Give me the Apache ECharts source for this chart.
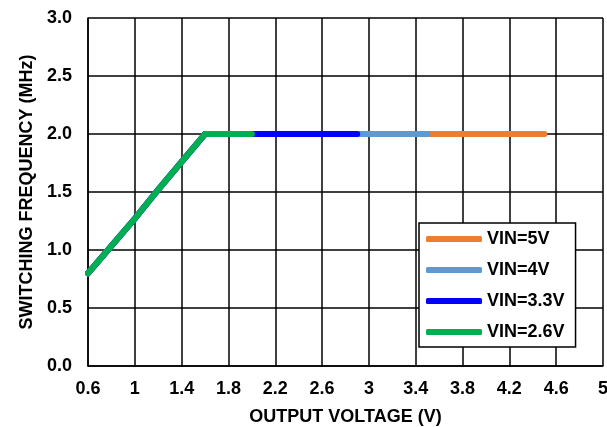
<!DOCTYPE html>
<html>
<head>
<meta charset="utf-8">
<title>Switching Frequency vs Output Voltage</title>
<script src="https://cdn.jsdelivr.net/npm/echarts@6/dist/echarts.min.js"></script>
<style>
  html, body { margin: 0; padding: 0; background: #fff; }
  #chart { width: 607px; height: 427px; }
</style>
</head>
<body>
<div id="chart"></div>
<script>
// Switching frequency (MHz) versus output voltage (V) for each input voltage.
const seriesNames = ['VIN=5V', 'VIN=4V', 'VIN=3.3V', 'VIN=2.6V'];
const seriesColors = ['#ED7D31', '#5B9BD5', '#0000FF', '#00B050'];

// [VOUT, fSW] pairs
const vin5 = [[0.6, 0.8], [1.0, 1.27], [1.2, 1.52], [1.6, 2.0], [4.5, 2.0]];
const vin4 = [[0.6, 0.8], [1.0, 1.27], [1.2, 1.52], [1.6, 2.0], [3.5, 2.0]];
const vin33 = [[0.6, 0.8], [1.0, 1.27], [1.2, 1.52], [1.6, 2.0], [2.9, 2.0]];
const vin26 = [[0.6, 0.8], [1.0, 1.27], [1.2, 1.52], [1.6, 2.0], [2.0, 2.0]];
const seriesData = [vin5, vin4, vin33, vin26];

const xMin = 0.6, xMax = 5, xStep = 0.4;
const yMin = 0, yMax = 3, yStep = 0.5;

const FONT = '"Liberation Sans", Arial, sans-serif';
const chart = echarts.init(document.getElementById('chart'), null, { renderer: 'canvas' });

chart.setOption({
  animation: false,
  backgroundColor: '#fff',
  grid: { left: 88, top: 18, right: 4, bottom: 61, containLabel: false, outerBoundsMode: 'none' },
  legend: {
    orient: 'vertical',
    left: 419,
    top: 223,
    data: seriesNames,
    icon: 'roundRect',
    itemWidth: 56,
    itemHeight: 6,
    itemGap: 13,
    itemTextGap: 4,
    padding: [7, 11, 6, 7],
    backgroundColor: '#fff',
    borderColor: '#000',
    borderWidth: 1.5,
    borderRadius: 0,
    textStyle: { fontFamily: FONT, fontWeight: 'bold', fontSize: 18, color: '#000' }
  },
  xAxis: {
    type: 'value',
    min: xMin,
    max: xMax,
    interval: xStep,
    name: 'OUTPUT VOLTAGE (V)',
    nameLocation: 'middle',
    nameGap: 42,
    nameTextStyle: { fontFamily: FONT, fontWeight: 'bold', fontSize: 18, color: '#000' },
    axisLine: { show: true, lineStyle: { color: '#000', width: 1.5 } },
    axisTick: { show: false },
    axisLabel: {
      margin: 14,
      fontFamily: FONT, fontWeight: 'bold', fontSize: 18, color: '#000',
      formatter: v => String(Math.round(v * 10) / 10)
    },
    splitLine: { show: true, lineStyle: { color: '#000', width: 1.5 } }
  },
  yAxis: {
    type: 'value',
    min: yMin,
    max: yMax,
    interval: yStep,
    name: 'SWITCHING FREQUENCY (MHz)',
    nameLocation: 'middle',
    nameGap: 51,
    nameTextStyle: { fontFamily: FONT, fontWeight: 'bold', fontSize: 18, color: '#000' },
    axisLine: { show: true, lineStyle: { color: '#000', width: 1.5 } },
    axisTick: { show: false },
    axisLabel: {
      margin: 16,
      fontFamily: FONT, fontWeight: 'bold', fontSize: 18, color: '#000',
      formatter: v => v.toFixed(1)
    },
    splitLine: { show: true, lineStyle: { color: '#000', width: 1.5 } }
  },
  series: seriesNames.map((name, i) => ({
    name: name,
    type: 'line',
    data: seriesData[i],
    color: seriesColors[i],
    showSymbol: false,
    symbol: 'none',
    lineStyle: { width: 6, color: seriesColors[i], cap: 'round', join: 'miter' },
    z: 2 + i
  }))
});
</script>
</body>
</html>
